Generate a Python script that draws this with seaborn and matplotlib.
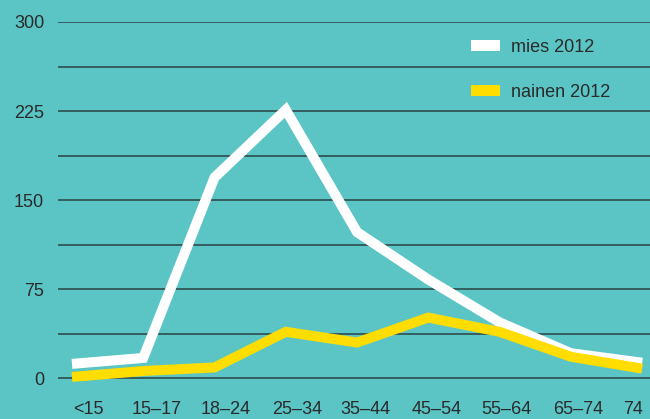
import numpy as np
import pandas as pd
import seaborn as sns
import matplotlib.pyplot as plt
from matplotlib.patches import Patch

# Age groups and counts per group
age_groups = ["<15", "15–17", "18–24", "25–34", "35–44", "45–54", "55–64", "65–74", "74"]
men_2012 = [12, 17, 169, 226, 123, 83, 47, 21, 13]
women_2012 = [1, 6, 9, 39, 30, 51, 39, 18, 8]
series_names = ["mies 2012", "nainen 2012"]
y_ticks = [0, 75, 150, 225, 300]

BG = "#5bc5c6"
GRID = "#2f4b4d"
TEXT = "#2a2a2a"
colors = {"mies 2012": "#ffffff", "nainen 2012": "#ffdd00"}

df = pd.DataFrame({
    "pos": list(range(len(age_groups))) * 2,
    "value": men_2012 + women_2012,
    "series": [series_names[0]] * len(age_groups) + [series_names[1]] * len(age_groups),
})

sns.set_style("white")
plt.rcParams["font.family"] = ["Liberation Sans", "DejaVu Sans"]

fig = plt.figure(figsize=(6.5, 4.19), dpi=100, facecolor=BG)
ax = fig.add_axes([58 / 650, 29 / 419, 592 / 650, 368 / 419])
ax.set_facecolor(BG)

sns.lineplot(data=df, x="pos", y="value", hue="series", hue_order=series_names,
             palette=colors, linewidth=7.2, legend=False, sort=False, ax=ax)
for line in ax.lines:
    line.set_solid_joinstyle("miter")
    line.set_solid_capstyle("butt")
    line.set_clip_on(False)

ax.set_xlim(-0.196, 8.11)
ax.set_ylim(-10, 300)

# horizontal rules every 37.5, labels every 75
ax.set_yticks(y_ticks)
ax.grid(False)
for yv in np.arange(0, 300.1, 37.5):
    ax.axhline(yv, color=GRID, lw=1.2, zorder=0.5)

# category labels sit a little right of each point
label_x = [0.225, 1.193, 2.162, 3.158, 4.113, 5.123, 6.092, 7.102, 7.876]
ax.set_xticks(label_x)
ax.set_xticklabels(age_groups)
ax.tick_params(axis="both", length=0, labelsize=13, labelcolor=TEXT)
ax.tick_params(axis="y", pad=10)
ax.tick_params(axis="x", pad=8)
ax.set_xlabel("")
ax.set_ylabel("")
for s in ax.spines.values():
    s.set_visible(False)

handles = [Patch(facecolor=colors[n], edgecolor="none", label=n) for n in series_names]
ax.legend(handles=handles, loc="upper left", bbox_to_anchor=(471 / 650, 1 - 39 / 419),
          bbox_transform=fig.transFigure, frameon=False, fontsize=13,
          handlelength=1.6, handleheight=0.55, handletextpad=0.6,
          labelspacing=1.55, borderpad=0, borderaxespad=0, labelcolor=TEXT)

fig.savefig("out.png", dpi=100, facecolor=BG)
